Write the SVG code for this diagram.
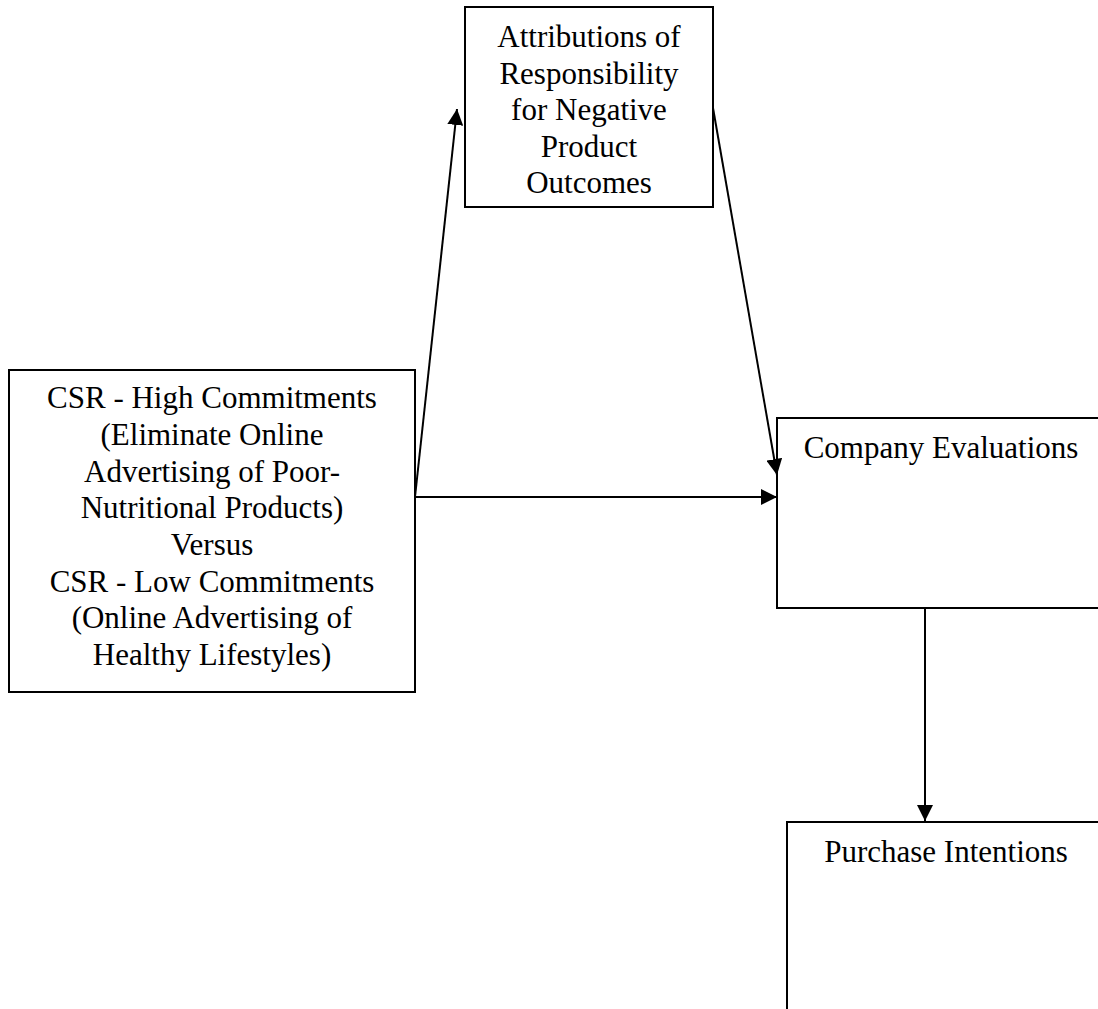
<svg xmlns="http://www.w3.org/2000/svg" width="1098" height="1009" viewBox="0 0 1098 1009">
<style>
.box{fill:#fff;stroke:#000;stroke-width:2}
.t{font-family:"Liberation Serif","Times New Roman",serif;font-size:31px;fill:#000;text-anchor:middle}
.c{fill:none;stroke:#000;stroke-width:2}
</style>
<defs>
<marker id="ah" markerUnits="userSpaceOnUse" markerWidth="18" markerHeight="16" refX="16" refY="8" orient="auto">
<path d="M0,0 L16,8 L0,16 Z" fill="#000"/>
</marker>
</defs>
<rect width="1098" height="1009" fill="#fff"/>
<g id="node-attributions">
<rect class="box" x="465" y="7" width="248" height="200"/>
<text class="t" x="589" y="47">Attributions of</text>
<text class="t" x="589" y="84">Responsibility</text>
<text class="t" x="589" y="120">for Negative</text>
<text class="t" x="589" y="157">Product</text>
<text class="t" x="589" y="193">Outcomes</text>
</g>
<g id="node-csr">
<rect class="box" x="9" y="370" width="406" height="322"/>
<text class="t" x="212" y="408">CSR - High Commitments</text>
<text class="t" x="212" y="445">(Eliminate Online</text>
<text class="t" x="212" y="482">Advertising of Poor-</text>
<text class="t" x="212" y="518">Nutritional Products)</text>
<text class="t" x="212" y="555">Versus</text>
<text class="t" x="212" y="592">CSR - Low Commitments</text>
<text class="t" x="212" y="628">(Online Advertising of</text>
<text class="t" x="212" y="665">Healthy Lifestyles)</text>
</g>
<g id="node-company">
<rect class="box" x="777" y="418" width="330" height="190"/>
<text class="t" x="941" y="458">Company Evaluations</text>
</g>
<g id="node-purchase">
<rect class="box" x="787" y="822" width="320" height="200"/>
<text class="t" x="946" y="862">Purchase Intentions</text>
</g>
<g id="connectors">
<line class="c" x1="415" y1="497" x2="457" y2="109" marker-end="url(#ah)"/>
<line class="c" x1="713" y1="108" x2="777" y2="475" marker-end="url(#ah)"/>
<line class="c" x1="415" y1="497" x2="777" y2="497" marker-end="url(#ah)"/>
<line class="c" x1="925" y1="608" x2="925" y2="821" marker-end="url(#ah)"/>
</g>
</svg>
